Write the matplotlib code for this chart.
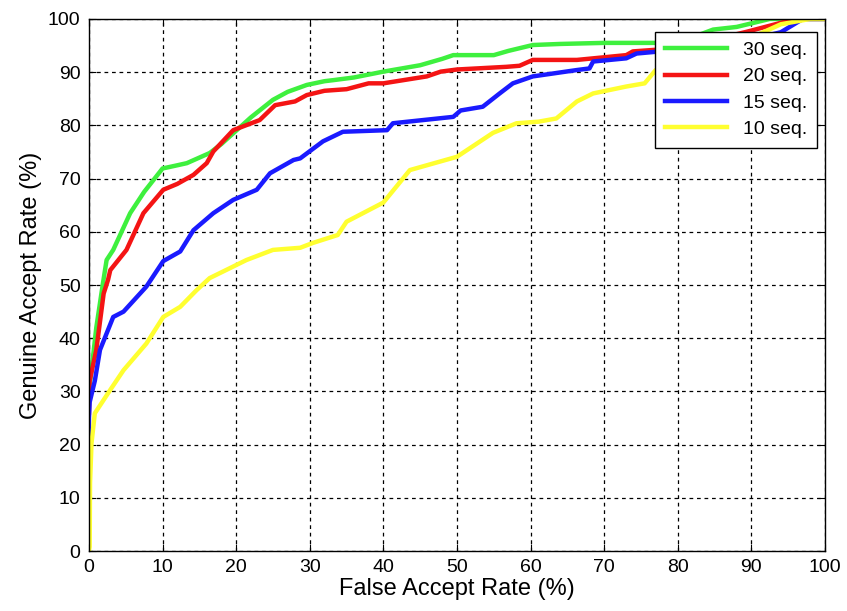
import matplotlib
matplotlib.use("Agg")
import matplotlib.pyplot as plt

plt.rcParams["font.family"] = ["Liberation Sans", "DejaVu Sans"]

# ROC curves (FAR %, GAR %)
far30 = [0, 0.4, 1, 1.9, 2.4, 3.3, 5.6, 7.5, 10, 12, 13.3, 16.4, 18, 19.6, 22, 25, 27, 29.6, 32, 33.2, 36,
         40, 45, 48, 49.5, 55, 57, 60.3, 64, 70, 80, 84.8, 88, 92.5, 100]
gar30 = [30, 34.6, 42, 50.3, 54.7, 56.6, 63.5, 67.5, 71.9, 72.5, 72.9, 74.8, 76.5, 78.5, 81.5, 84.8, 86.3, 87.6, 88.3, 88.5, 89,
         90.1, 91.3, 92.5, 93.2, 93.2, 94, 95.1, 95.3, 95.5, 95.5, 98, 98.5, 100, 100]

far20 = [0, 0.1, 1, 2, 2.6, 2.9, 5.1, 7.4, 10.1, 12, 14.2, 16, 16.9, 19.6, 23.2, 25.3, 28, 29.6, 32, 35,
         38, 40, 45.9, 47.8, 50, 56.7, 58.5, 60.3, 66.3, 73, 73.9, 80, 89.4, 96, 100]
gar20 = [26, 32, 37.8, 48.4, 51, 52.8, 56.6, 63.5, 67.9, 69, 70.7, 72.9, 75.1, 79.1, 81, 83.8, 84.5, 85.7, 86.5, 86.8,
         87.9, 87.9, 89.2, 90.1, 90.5, 91, 91.2, 92.3, 92.3, 93.2, 93.9, 94.5, 97.6, 100, 100]

far15 = [0, 0, 0.1, 0.8, 1.5, 2.4, 3.3, 4.7, 7.8, 10.1, 12.4, 14.2, 16.9, 19.6, 22.8, 24.6, 27.8, 28.7, 31.8, 34.5,
         40.5, 41.3, 49.5, 50.5, 53.5, 55.8, 57.6, 60.3, 66.3, 68, 68.5, 73, 74.4, 80, 88, 94, 97, 100]
gar15 = [13, 25, 28, 32, 37.8, 40.9, 44, 45, 49.7, 54.5, 56.3, 60.3, 63.5, 66, 67.9, 71, 73.5, 73.8, 77, 78.8,
         79.1, 80.4, 81.6, 82.8, 83.5, 86, 87.9, 89.2, 90.4, 90.7, 92, 92.6, 93.5, 94.2, 95.5, 97.5, 100, 100]

far10 = [0, 0.1, 0.15, 0.35, 0.8, 2.9, 4.7, 7.8, 10.1, 12.4, 14.6, 16.4, 21.4, 25, 28.7, 30.4, 33.8, 35, 40,
         43.6, 50, 54.9, 58.1, 61.1, 63.5, 66.3, 68.5, 73, 75.5, 77, 80, 84, 90, 94, 98, 100]
gar10 = [0, 0.8, 12.8, 20.3, 25.9, 30.3, 34, 39, 44, 45.9, 49, 51.3, 54.7, 56.6, 57, 57.9, 59.4, 61.9, 65.5,
         71.6, 74.1, 78.6, 80.4, 80.7, 81.3, 84.5, 86, 87.3, 87.9, 90.4, 91.5, 94.5, 96.5, 99, 100, 100]

fig = plt.figure(figsize=(8.47, 6.11), dpi=100)
ax = fig.add_axes([0.105, 0.098, 0.869, 0.871])

ax.plot(far30, gar30, color="#3ef03e", lw=3.2, label="30 seq.")
ax.plot(far20, gar20, color="#f41414", lw=3.2, label="20 seq.")
ax.plot(far15, gar15, color="#1a1aff", lw=3.2, label="15 seq.")
ax.plot(far10, gar10, color="#ffff30", lw=3.2, label="10 seq.")

ax.set_xlim(0, 100)
ax.set_ylim(0, 100)
ax.set_xticks(range(0, 101, 10))
ax.set_yticks(range(0, 101, 10))
ax.grid(True, color="black", linestyle=(0, (3, 3)), linewidth=0.9)
ax.tick_params(direction="in", labelsize=14, length=5, pad=6, top=True, right=True)
for s in ax.spines.values():
    s.set_linewidth(1.0)

ax.set_xlabel("False Accept Rate (%)", fontsize=17, labelpad=1)
ax.set_ylabel("Genuine Accept Rate (%)", fontsize=17, labelpad=4)

leg = ax.legend(loc="upper right", bbox_to_anchor=(0.989, 0.976), borderaxespad=0,
                fontsize=14, fancybox=False, edgecolor="black", framealpha=1,
                handlelength=3.2, labelspacing=0.45, borderpad=0.5)
leg.get_frame().set_linewidth(1.0)

fig.savefig("out.png", dpi=100)
